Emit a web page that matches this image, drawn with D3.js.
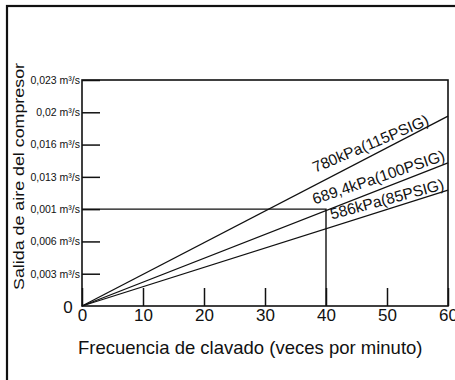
<!DOCTYPE html>
<html>
<head>
<meta charset="utf-8">
<script src="https://cdn.jsdelivr.net/npm/d3@7"></script>
<style>
  body { margin: 0; background: #fff; }
  svg { display: block; font-family: "Liberation Sans", Arial, sans-serif; }
  .axis text { fill: #111; }
  .axis line { stroke: #111; stroke-width: 1.5; }
  .axis path { display: none; }
  .y.axis text { font-size: 10.5px; }
  .x.axis text { font-size: 17px; }
</style>
</head>
<body>
<script>
// DATA
var xTicks = [0, 10, 20, 30, 40, 50, 60];
// y ticks are evenly spaced in the picture, the labels are kept as printed
var yTickLabels = ['0', '0,003 m\u00b3/s', '0,006 m\u00b3/s', '0,001 m\u00b3/s', '0,013 m\u00b3/s',
                   '0,016 m\u00b3/s', '0,02 m\u00b3/s', '0,023 m\u00b3/s'];
var pressures = ['780kPa(115PSIG)', '689,4kPa(100PSIG)', '586kPa(85PSIG)'];
var frequency = [0, 60];
// air output (in tick steps) at each frequency, one list per pressure
var airOutput = [
  [0, 5.88],
  [0, 4.43],
  [0, 3.59]
];
// reference reading drawn on the chart
var refFrequency = 40,
    refOutput = 3;

// SET UP DIMENSIONS
var w = 455,
    h = 380;

var margin = { top: 80, right: 7, bottom: 74, left: 82 };
var innerW = w - margin.left - margin.right,
    innerH = h - margin.top - margin.bottom;

var svg = d3.select('body').append('svg')
  .attr('width', w)
  .attr('height', h);

// outer frame (runs off the right and bottom of the picture)
svg.append('rect')
  .attr('x', 7).attr('y', 6)
  .attr('width', 520).attr('height', 420)
  .attr('fill', 'none')
  .attr('stroke', '#111')
  .attr('stroke-width', 2.2);

var g = svg.append('g')
  .attr('transform', translation(margin.left, margin.top));

// SCALES
var x = d3.scaleLinear().domain([0, 60]).range([0, innerW]);
var y = d3.scaleLinear().domain([0, yTickLabels.length - 1]).range([innerH, 0]);

// AXES
var xAxis = d3.axisBottom(x)
  .tickValues(xTicks)
  .tickSize(-18)
  .tickPadding(3)
  .tickFormat(d3.format('d'));

var yAxis = d3.axisLeft(y)
  .tickValues(d3.range(1, yTickLabels.length))
  .tickSize(-18)
  .tickPadding(2)
  .tickFormat(function(d) { return yTickLabels[d]; });

g.append('g')
  .attr('class', 'x axis')
  .attr('transform', translation(0, innerH))
  .call(xAxis);

g.append('g')
  .attr('class', 'y axis')
  .call(yAxis);

// the "0" on the y axis is printed large
g.append('text')
  .attr('x', x(0) - 14)
  .attr('y', y(0) + 1)
  .attr('dy', '0.35em')
  .attr('text-anchor', 'middle')
  .style('font-size', '17px')
  .attr('fill', '#111')
  .text(yTickLabels[0]);

// plot frame
g.append('rect')
  .attr('width', innerW)
  .attr('height', innerH)
  .attr('fill', 'none')
  .attr('stroke', '#111')
  .attr('stroke-width', 1.6);

// reference guide lines
g.append('path')
  .attr('d', 'M' + x(0) + ',' + y(refOutput) + 'H' + x(refFrequency) + 'V' + y(0))
  .attr('fill', 'none')
  .attr('stroke', '#111')
  .attr('stroke-width', 1.4);

// LINES
var line = d3.line()
  .x(function(d, i) { return x(frequency[i]); })
  .y(function(d) { return y(d); });

g.selectAll('.series')
  .data(airOutput)
  .enter().append('path')
    .attr('class', 'series')
    .attr('d', line)
    .attr('fill', 'none')
    .attr('stroke', '#111')
    .attr('stroke-width', 1.3);

// line labels, end anchored near the right edge
var labelLayout = [
  { dx: -18, dy: 8, angle: -23 },
  { dx: -2, dy: -3, angle: -18.7 },
  { dx: -3, dy: -1, angle: -15 }
];

g.selectAll('.lineLabel')
  .data(pressures)
  .enter().append('text')
    .attr('class', 'lineLabel')
    .attr('text-anchor', 'end')
    .attr('transform', function(d, i) {
      var lx = x(frequency[1]) + labelLayout[i].dx,
          ly = y(airOutput[i][1]) + labelLayout[i].dy;
      return translation(lx, ly) + ' rotate(' + labelLayout[i].angle + ')';
    })
    .style('font-size', '15.5px')
    .attr('fill', '#111')
    .text(function(d) { return d; });

// AXIS TITLES
svg.append('text')
  .attr('x', 78)
  .attr('y', 354)
  .style('font-size', '18.5px')
  .attr('fill', '#111')
  .text('Frecuencia de clavado (veces por minuto)');

svg.append('text')
  .attr('transform', translation(24, 290) + ' rotate(-90)')
  .attr('textLength', 227)
  .attr('lengthAdjust', 'spacingAndGlyphs')
  .style('font-size', '14.5px')
  .attr('fill', '#111')
  .text('Salida de aire del compresor');

function translation(x, y) {
  return 'translate(' + x + ',' + y + ')';
}
</script>
</body>
</html>
